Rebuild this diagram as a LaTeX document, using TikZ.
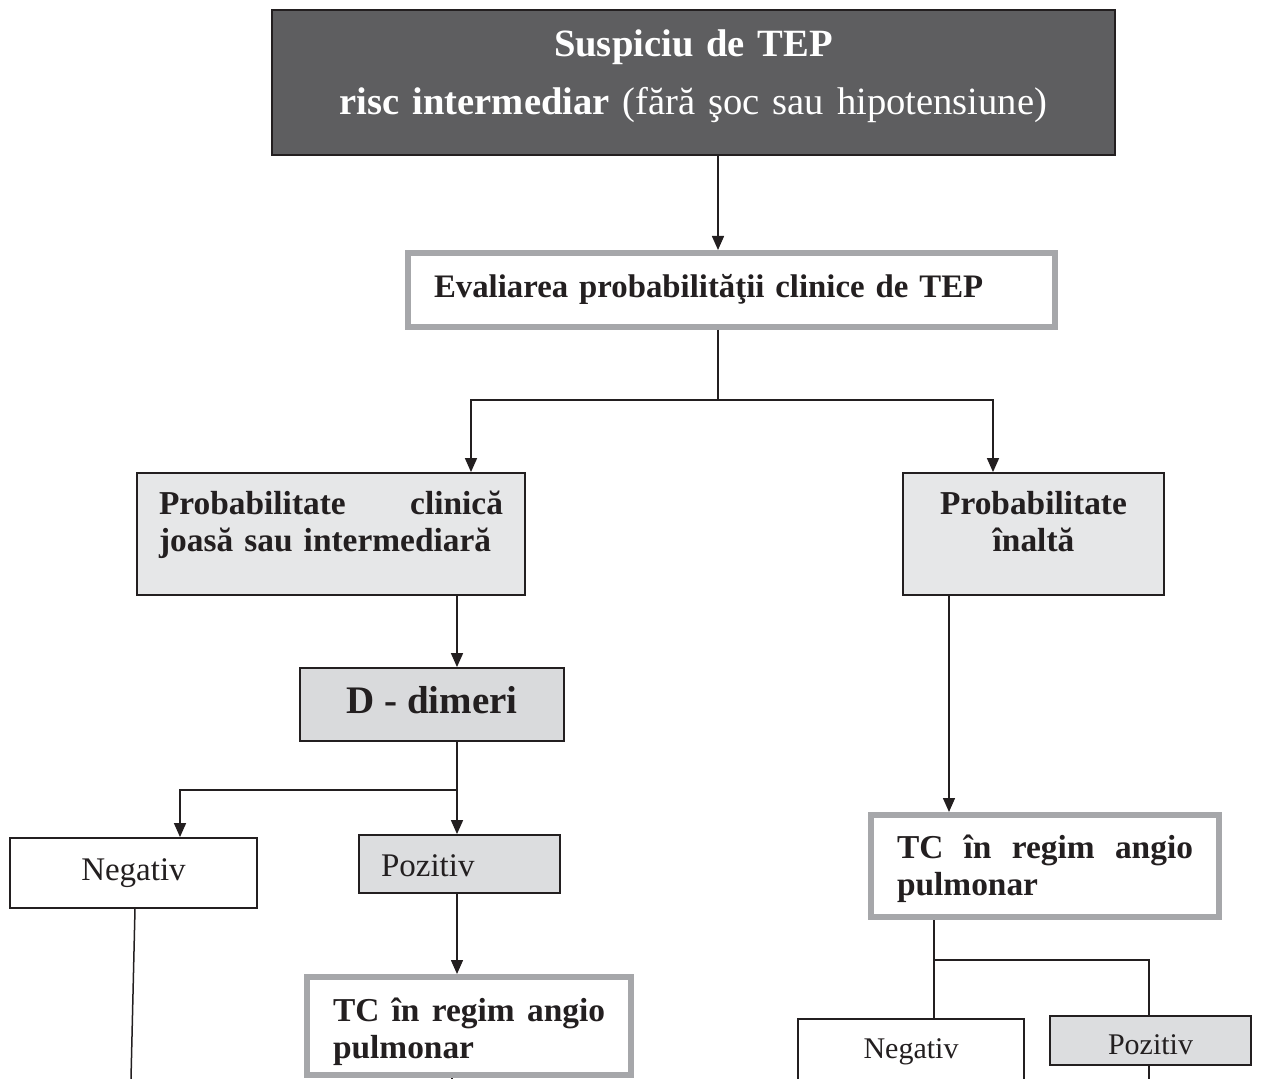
\documentclass[tikz,border=0pt]{standalone}
\usepackage{fontspec}
\setmainfont{Liberation Serif}
\usepackage{tikz}
\usetikzlibrary{arrows.meta, positioning, calc}
\definecolor{inkblack}{HTML}{231F20}
\definecolor{titlegray}{HTML}{5E5E60}
\definecolor{framegray}{HTML}{A6A7AA}
\definecolor{panelgray}{HTML}{E6E7E8}
\definecolor{dimgray}{HTML}{D9DADC}
\definecolor{pozgray}{HTML}{DCDDDF}
\newcommand{\titlefont}{\fontsize{19.3}{29}\selectfont}
\newcommand{\bodybf}{\fontsize{16.7}{18.5}\selectfont\bfseries}
\newcommand{\evalfont}{\fontsize{16.4}{18.5}\selectfont\bfseries}
\newcommand{\dimfont}{\fontsize{19.5}{23}\selectfont\bfseries}
\newcommand{\resfont}{\fontsize{16.5}{19}\selectfont}
\newcommand{\ressmall}{\fontsize{15}{18}\selectfont}
\tikzset{
  % Title box
  darkbox/.style={
    rectangle, draw=inkblack, line width=1pt, fill=titlegray,
    text=white, inner sep=0pt, font=\titlefont, align=center,
  },
  % Boxes with a thick grey frame
  framebox/.style={
    rectangle, draw=framegray, line width=3pt, fill=white,
    text=inkblack, inner sep=0pt, font=\bodybf, align=left,
  },
  % Plain boxes
  plainbox/.style={
    rectangle, draw=inkblack, line width=0.9pt, fill=#1,
    text=inkblack, inner sep=0pt,
  },
  plainbox/.default={panelgray},
  % Connectors
  myarrow/.style={-{Triangle[length=7pt,width=6pt]}, line width=0.75pt, draw=inkblack},
  myline/.style={line width=0.75pt, draw=inkblack},
}

\begin{document}
\begin{tikzpicture}[x=0.5pt, y=-0.5pt]

  \useasboundingbox (0,0) rectangle (1275,1079);
  \clip (0,0) rectangle (1275,1079);

  % Top
  \node[darkbox, minimum width=421.5pt, minimum height=72.5pt, text width=380pt,
        text height=0pt, text depth=25.5pt] (susp) at (693.5,82.5) {
    \textbf{Suspiciu de TEP}\\\textbf{risc intermediar} (fără şoc sau hipotensiune)
  };
  \node[framebox, font=\evalfont, minimum width=323.5pt, minimum height=37pt, text width=297.5pt,
        text height=8pt, text depth=0pt] (eval-prob) at (731.5,290) {
    Evaliarea probabilităţii clinice de TEP
  };

  % Left branch
  \node[plainbox, minimum width=194pt, minimum height=61pt, text width=172pt,
        font=\bodybf, align=left, text height=0pt, text depth=19pt] (prob-low) at (331,534) {
    Probabilitate\hfill clinică\\joasă sau intermediară
  };
  \node[plainbox=dimgray, minimum width=132pt, minimum height=36.5pt, font=\dimfont,
        text height=9.5pt, text depth=0pt] (d-dim) at (432,704.5) {D - dimeri};
  \node[plainbox=white, minimum width=123.5pt, minimum height=35pt, font=\resfont,
        text height=7pt, text depth=0pt] (neg-l) at (133.5,873) {Negativ};
  \node[plainbox=pozgray, minimum width=100.5pt, minimum height=29pt, text width=78.5pt,
        font=\resfont, align=left, text height=12pt, text depth=0pt] (poz-l) at (459.5,864) {Pozitiv};
  \node[framebox, minimum width=162pt, minimum height=49pt, text width=136pt,
        text height=0pt, text depth=5pt] (tc-l) at (469,1026) {
    TC\hfill în\hfill regim\hfill angio\\pulmonar
  };

  % Right branch
  \node[plainbox, minimum width=130.5pt, minimum height=61pt, text width=100pt,
        font=\bodybf, align=center, text height=0pt, text depth=19pt] (prob-high) at (1033.5,534) {
    Probabilitate\\înaltă
  };
  \node[framebox, minimum width=174pt, minimum height=51pt, text width=148pt,
        text height=0pt, text depth=8pt] (tc-r) at (1045,866) {
    TC\hfill în\hfill regim\hfill angio\\pulmonar
  };
  \node[plainbox=white, minimum width=113pt, minimum height=40.5pt, font=\ressmall,
        text height=0pt, text depth=1.5pt] (neg-r) at (911,1059.5) {Negativ};
  \node[plainbox=pozgray, minimum width=100.5pt, minimum height=24.5pt, font=\ressmall,
        text height=13.5pt, text depth=0pt] (poz-r) at (1150.5,1040.5) {Pozitiv};

  % Connector guides
  \coordinate (c-main) at (718,400);
  \coordinate (c-low) at (471,400);
  \coordinate (c-high) at (993,400);
  \coordinate (c-dim) at (457,790);
  \coordinate (c-neg) at (180,790);
  \coordinate (c-negl) at (135,0);
  \coordinate (e-negl) at (131,1079);
  \coordinate (e-tcl) at (452,1079);
  \coordinate (c-right) at (949,0);
  \coordinate (c-tc) at (934,960);
  \coordinate (c-poz) at (1149,960);
  \coordinate (e-pozr) at (1149,1079);

  % Connectors
  \draw[myarrow] (susp.south -| c-main) -- (eval-prob.north -| c-main);
  \draw[myline] (eval-prob.south -| c-main) -- (c-main);
  \draw[myarrow] (c-main) -- (c-low) -- (prob-low.north -| c-low);
  \draw[myarrow] (c-main) -- (c-high) -- (prob-high.north -| c-high);

  \draw[myarrow] (prob-low.south -| c-dim) -- (d-dim.north -| c-dim);
  \draw[myarrow] (d-dim.south -| c-dim) -- (poz-l.north -| c-dim);
  \draw[myarrow] (c-dim) -- (c-neg) -- (neg-l.north -| c-neg);
  \draw[myarrow] (poz-l.south -| c-dim) -- (tc-l.north -| c-dim);
  \draw[myline] (neg-l.south -| c-negl) -- (e-negl);
  \draw[myline] (tc-l.south -| e-tcl) -- (e-tcl);

  \draw[myarrow] (prob-high.south -| c-right) -- (tc-r.north -| c-right);
  \draw[myline] (tc-r.south -| c-tc) -- (neg-r.north -| c-tc);
  \draw[myline] (c-tc) -- (c-poz) -- (poz-r.north -| c-poz);
  \draw[myline] (poz-r.south -| c-poz) -- (e-pozr);

\end{tikzpicture}
\end{document}
